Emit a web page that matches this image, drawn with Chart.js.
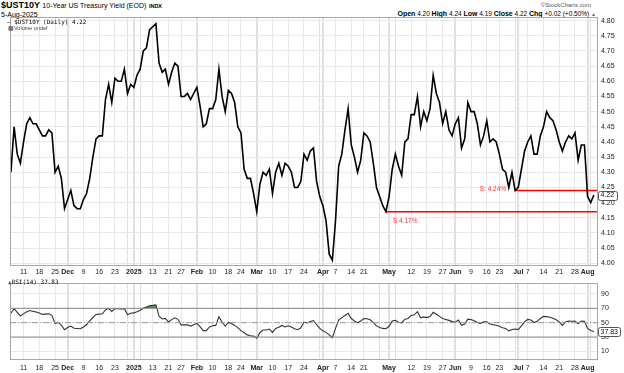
<!DOCTYPE html>
<html>
<head>
<meta charset="utf-8">
<script src="https://cdn.jsdelivr.net/npm/chart.js@4"></script>
<style>
  body { margin: 0; width: 624px; height: 373px; background: #fff; position: relative; overflow: hidden; font-family: "Liberation Sans", Arial, sans-serif; }
  canvas { position: absolute; left: 0; }
  .t { position: absolute; white-space: nowrap; color: #000; line-height: 1; }
  .mono { font-family: "DejaVu Sans Mono", monospace; }
</style>
</head>
<body>
<div class="t" style="left:1px;top:1px;font-size:9px;font-weight:bold;">$UST10Y <span style="font-size:7px;font-weight:normal;">10-Year US Treasury Yield (EOD)</span> <span style="font-size:5.5px;">INDX</span></div>
<div class="t" style="left:1px;top:10.5px;font-size:7px;">5-Aug-2025</div>
<div class="t" style="right:33px;top:2px;font-size:6px;color:#555;">©StockCharts.com</div>
<div class="t" id="ohlc" style="right:28px;top:10px;font-size:6.5px;"></div>
<canvas id="main" width="624" height="276" style="top:0"></canvas>
<canvas id="rsi" width="624" height="97" style="top:276px"></canvas>
<div class="t mono" style="left:7px;top:19px;font-size:6px;">&#8212; $UST10Y (Daily) 4.22</div>
<div class="t" style="left:8px;top:26px;font-size:5.5px;color:#444;">&#9641;Volume undef</div>
<div class="t mono" style="left:8px;top:279px;font-size:6px;"><span style="color:#3a7a3a;">&#9650;</span>RSI(14) 37.83</div>
<script>
// trading days shown on the chart
const months = ['2024-11', '2024-12', '2025-01', '2025-02', '2025-03', '2025-04', '2025-05', '2025-06', '2025-07', '2025-08'];
const monthDays = [
  [5, 6, 7, 8, 11, 12, 13, 14, 15, 18, 19, 20, 21, 22, 25, 26, 27, 29],
  [2, 3, 4, 5, 6, 9, 10, 11, 12, 13, 16, 17, 18, 19, 20, 23, 24, 26, 27, 30, 31],
  [2, 3, 6, 7, 8, 10, 13, 14, 15, 16, 17, 21, 22, 23, 24, 27, 28, 29, 30, 31],
  [3, 4, 5, 6, 7, 10, 11, 12, 13, 14, 18, 19, 20, 21, 24, 25, 26, 27, 28],
  [3, 4, 5, 6, 7, 10, 11, 12, 13, 14, 17, 18, 19, 20, 21, 24, 25, 26, 27, 28, 31],
  [1, 2, 3, 4, 7, 8, 9, 10, 11, 14, 15, 16, 17, 21, 22, 23, 24, 25, 28, 29, 30],
  [1, 2, 5, 6, 7, 8, 9, 12, 13, 14, 15, 16, 19, 20, 21, 22, 23, 27, 28, 29, 30],
  [2, 3, 4, 5, 6, 9, 10, 11, 12, 13, 16, 17, 18, 20, 23, 24, 25, 26, 27, 30],
  [1, 2, 3, 7, 8, 9, 10, 11, 14, 15, 16, 17, 18, 21, 22, 23, 24, 25, 28, 29, 30, 31],
  [1, 4, 5]
];

// daily close, %
const closes = [
  4.30, 4.45, 4.36, 4.33, 4.40, 4.46, 4.48, 4.46, 4.46, 4.44, 4.42, 4.42, 4.44, 4.43, 4.30, 4.32, 4.28, 4.18,
  4.21, 4.24, 4.19, 4.18, 4.18, 4.21, 4.23, 4.28, 4.35, 4.41, 4.42, 4.42, 4.54, 4.59, 4.53, 4.61, 4.60, 4.60, 4.64, 4.56, 4.59,
  4.58, 4.62, 4.64, 4.70, 4.71, 4.77, 4.78, 4.79, 4.66, 4.63, 4.64, 4.59, 4.63, 4.66, 4.65, 4.55, 4.55, 4.56, 4.54, 4.56, 4.58,
  4.52, 4.45, 4.46, 4.51, 4.51, 4.54, 4.64, 4.55, 4.50, 4.57, 4.56, 4.53, 4.45, 4.43, 4.31, 4.28, 4.28, 4.23, 4.17,
  4.26, 4.30, 4.29, 4.31, 4.23, 4.30, 4.33, 4.29, 4.33, 4.32, 4.30, 4.25, 4.25, 4.27, 4.36, 4.34, 4.37, 4.38, 4.27, 4.22, 4.19,
  4.14, 4.03, 4.01, 4.14, 4.32, 4.36, 4.44, 4.51, 4.39, 4.35, 4.30, 4.34, 4.43, 4.42, 4.40, 4.33, 4.25, 4.22, 4.19, 4.17,
  4.22, 4.31, 4.36, 4.32, 4.29, 4.40, 4.41, 4.49, 4.49, 4.55, 4.45, 4.50, 4.47, 4.51, 4.62, 4.56, 4.53, 4.46, 4.50, 4.44, 4.42,
  4.46, 4.48, 4.38, 4.41, 4.53, 4.50, 4.50, 4.46, 4.39, 4.42, 4.47, 4.40, 4.41, 4.40, 4.36, 4.31, 4.30, 4.25, 4.30, 4.24,
  4.25, 4.31, 4.37, 4.40, 4.42, 4.36, 4.36, 4.42, 4.45, 4.50, 4.48, 4.47, 4.44, 4.40, 4.37, 4.40, 4.42, 4.41, 4.43, 4.34, 4.39, 4.39,
  4.22, 4.20, 4.225
];

// RSI(14)
const rsi = [
  63.2, 69.5, 64.5, 59.4, 62.3, 65.3, 67.0, 65.7, 64.9, 63.6, 61.5, 61.9, 62.3, 60.2, 48.7, 50.4, 46.6, 40.2,
  43.2, 45.3, 42.3, 41.9, 41.5, 44.0, 47.4, 52.6, 57.2, 61.5, 61.9, 62.3, 67.9, 69.8, 65.7, 69.5, 69.3, 69.1, 69.5, 61.1, 63.2,
  63.6, 65.3, 67.4, 70.0, 71.7, 73.4, 74.3, 74.7, 58.9, 55.1, 56.0, 50.9, 54.3, 56.8, 54.7, 47.0, 47.0, 47.0, 45.3, 47.0, 49.1,
  44.5, 38.9, 38.9, 44.0, 45.7, 46.2, 58.1, 50.9, 45.3, 50.4, 48.7, 46.2, 43.2, 38.9, 36.0, 33.0, 31.7, 31.3, 28.3,
  36.0, 39.8, 39.8, 41.1, 36.4, 41.9, 43.6, 46.2, 44.0, 45.7, 44.0, 41.5, 40.2, 42.8, 50.9, 49.6, 51.7, 53.0, 47.2, 42.0, 38.6,
  36.5, 33.0, 29.1, 42.0, 53.7, 57.1, 60.1, 63.1, 55.8, 52.4, 49.8, 52.4, 55.8, 55.4, 54.1, 50.2, 45.5, 43.3, 42.0, 41.6,
  45.0, 52.4, 53.2, 50.6, 49.8, 54.9, 55.8, 60.1, 61.0, 65.3, 56.7, 58.0, 57.1, 58.4, 64.4, 61.8, 58.8, 55.8, 54.5, 53.2, 51.5,
  50.6, 53.7, 46.3, 48.0, 55.0, 54.3, 52.8, 50.2, 48.9, 51.1, 51.1, 48.1, 47.2, 46.3, 45.0, 42.8, 42.0, 38.6, 40.4, 41.2,
  40.4, 45.5, 51.1, 54.5, 53.7, 50.2, 51.9, 55.8, 58.8, 58.4, 57.5, 56.2, 54.1, 51.1, 46.3, 51.1, 52.4, 51.9, 52.4, 48.5, 52.4, 51.9,
  42.0, 39.0, 37.83
];

// x-axis ticks ('' = grid line only)
const tickDates = ['2024-11-11', '2024-11-18', '2024-11-25', '2024-12-02', '2024-12-09', '2024-12-16', '2024-12-23', '2024-12-30',
  '2025-01-02', '2025-01-06', '2025-01-13', '2025-01-21', '2025-01-27', '2025-02-03', '2025-02-10', '2025-02-18', '2025-02-24',
  '2025-03-03', '2025-03-10', '2025-03-17', '2025-03-24', '2025-03-31', '2025-04-01', '2025-04-07', '2025-04-14', '2025-04-21',
  '2025-04-28', '2025-05-01', '2025-05-05', '2025-05-12', '2025-05-19', '2025-05-27', '2025-06-02', '2025-06-09', '2025-06-16',
  '2025-06-23', '2025-06-30', '2025-07-01', '2025-07-07', '2025-07-14', '2025-07-21', '2025-07-28', '2025-08-01', '2025-08-04'];
const tickLabels = ['11', '18', '25', 'Dec', '9', '16', '23', '',
  '2025', '', '13', '21', '27', 'Feb', '10', '18', '24',
  'Mar', '10', '17', '24', '', 'Apr', '7', '14', '21',
  '', 'May', '', '12', '19', '27', 'Jun', '9', '16',
  '23', '', 'Jul', '7', '14', '21', '28', 'Aug', ''];

const priceTicks = [4.00, 4.05, 4.10, 4.15, 4.20, 4.25, 4.30, 4.35, 4.40, 4.45, 4.50, 4.55, 4.60, 4.65, 4.70, 4.75, 4.80];
const rsiTicks = [10, 30, 50, 70, 90];
const rsiLevels = [70, 50, 30];

// support lines
const supportLevels = [4.24, 4.17];
const supportFrom = ['2025-06-30', '2025-04-30'];
const supportText = ['S: 4.24%', 'S 4.17%'];

const ohlcNames = ['Open', 'High', 'Low', 'Close', 'Chg'];
const ohlcValues = ['4.20', '4.24', '4.19', '4.22', '+0.02 (+0.50%)'];
const lastCloseText = '4.22';
const lastRsiText = '37.83';

const dates = months.flatMap((m, k) => monthDays[k].map(d => m + '-' + String(d).padStart(2, '0')));
const tickIdx = tickDates.map(d => dates.indexOf(d));
const axisFont = "'Liberation Sans', Arial, sans-serif";
const xMin = -0.3, xMax = 186.3;

document.getElementById('ohlc').innerHTML = ohlcNames.map((n, i) =>
  '<b style="font-size:7px">' + n + '</b> ' + ohlcValues[i]).join(' ') +
  ' <span style="color:#2a9a2a;font-size:5px">&#9650;</span>';

function isMonth(i) {
  const l = tickLabels[i] || '';
  return l !== '' && (isNaN(+l) || l.length === 4);
}

function xAxis(pad, h) {
  return {
    type: 'linear', min: xMin, max: xMax,
    afterBuildTicks: s => { s.ticks = tickIdx.map(v => ({ value: v })); },
    afterFit: s => { s.height = h; },
    ticks: {
      autoSkip: false, maxRotation: 0, padding: pad, color: '#222',
      callback: (v, i) => tickLabels[i],
      font: ctx => ({ family: axisFont, size: 7, weight: isMonth(ctx.index) ? 'bold' : 'normal' })
    },
    grid: {
      drawTicks: false,
      color: ctx => isMonth(ctx.index) || tickLabels[ctx.index] === '' ? '#e0e0e0' : '#e8e8e8',
      lineWidth: ctx => isMonth(ctx.index) ? 2 : 1
    },
    border: { display: false }
  };
}

function yAxis(min, max, ticks, fmt) {
  return {
    position: 'right', min, max,
    afterBuildTicks: s => { s.ticks = ticks.map(v => ({ value: v })); },
    afterFit: s => { s.width = 26; },
    ticks: { padding: 3, color: '#222', font: { family: axisFont, size: 7 }, callback: fmt },
    grid: { drawTicks: false, color: '#e8e8e8' },
    border: { display: false }
  };
}

const frame = {
  id: 'frame',
  afterDraw(chart) {
    const { ctx, chartArea: a } = chart;
    ctx.save();
    ctx.strokeStyle = '#a8a8a8';
    ctx.lineWidth = 1;
    ctx.strokeRect(Math.round(a.left) + 0.5, Math.round(a.top) + 0.5, Math.round(a.width) - 1, Math.round(a.height) - 1);
    ctx.restore();
  }
};

function badge(value, text, w) {
  return {
    id: 'badge',
    afterDraw(chart) {
      const { ctx, chartArea: a } = chart;
      const y = chart.scales.y.getPixelForValue(value);
      ctx.save();
      ctx.fillStyle = '#fff';
      ctx.strokeStyle = '#555';
      ctx.lineWidth = 1;
      ctx.beginPath();
      ctx.roundRect(a.right + 0.5, Math.round(y - 4.5) + 0.5, w, 9, 2);
      ctx.fill();
      ctx.stroke();
      ctx.fillStyle = '#111';
      ctx.font = "7px " + axisFont;
      ctx.textBaseline = 'middle';
      ctx.fillText(text, a.right + 2.5, y + 0.5);
      ctx.restore();
    }
  };
}

const supportLabels = {
  id: 'supportLabels',
  afterDatasetsDraw(chart) {
    const { ctx } = chart;
    ctx.save();
    ctx.fillStyle = '#ff3333';
    ctx.font = "6.5px " + axisFont;
    ctx.textBaseline = 'middle';
    supportLevels.forEach((lv, k) => {
      const x = chart.scales.x.getPixelForValue(dates.indexOf(supportFrom[k]));
      const y = chart.scales.y.getPixelForValue(lv);
      if (k === 0) {
        ctx.textAlign = 'right';
        ctx.fillText(supportText[k], x - 9, y - 1);
      } else {
        ctx.textAlign = 'left';
        ctx.fillText(supportText[k], x + 7, y + 9);
      }
    });
    ctx.restore();
  }
};

const common = {
  responsive: false,
  animation: false,
  events: [],
  plugins: { legend: { display: false }, tooltip: { enabled: false } }
};

new Chart(document.getElementById('main'), {
  type: 'line',
  data: {
    datasets: [
      {
        data: closes.map((v, i) => ({ x: i, y: v })),
        borderColor: '#000', borderWidth: 1.6, pointRadius: 0, tension: 0
      },
      ...supportLevels.map((lv, k) => ({
        data: [{ x: dates.indexOf(supportFrom[k]), y: lv }, { x: xMax, y: lv }],
        borderColor: '#ff0000', borderWidth: 1.6, pointRadius: 0
      }))
    ]
  },
  options: {
    ...common,
    layout: { padding: { left: 10, top: 17, right: 0, bottom: 0 } },
    scales: {
      x: xAxis(2, 10),
      y: yAxis(3.991, 4.812, priceTicks, v => v.toFixed(2))
    }
  },
  plugins: [frame, supportLabels, badge(closes[closes.length - 1], lastCloseText, 19)]
});

const rsiPts = rsi.map((v, i) => ({ x: i, y: v }));

new Chart(document.getElementById('rsi'), {
  type: 'line',
  data: {
    datasets: [
      ...rsiLevels.map(lv => ({
        data: [{ x: xMin, y: lv }, { x: xMax, y: lv }],
        borderColor: lv === 50 ? '#9a9a9a' : '#8a8a8a', borderWidth: 1, pointRadius: 0,
        borderDash: lv === 50 ? [6, 2, 1, 2] : []
      })),
      {
        data: rsiPts, borderWidth: 0, pointRadius: 0,
        fill: { target: { value: 30 }, above: 'rgba(0,0,0,0)', below: '#d94040' }
      },
      {
        data: rsiPts, borderColor: '#333', borderWidth: 1.1, pointRadius: 0, tension: 0,
        fill: { target: { value: 70 }, above: '#4f8f4f', below: 'rgba(0,0,0,0)' }
      }
    ]
  },
  options: {
    ...common,
    layout: { padding: { left: 10, top: 1, right: 0, bottom: 0 } },
    scales: {
      x: xAxis(3.5, 13),
      y: yAxis(-2, 105, rsiTicks, v => String(v))
    }
  },
  plugins: [frame, badge(rsi[rsi.length - 1], lastRsiText, 22)]
});
</script>
</body>
</html>
